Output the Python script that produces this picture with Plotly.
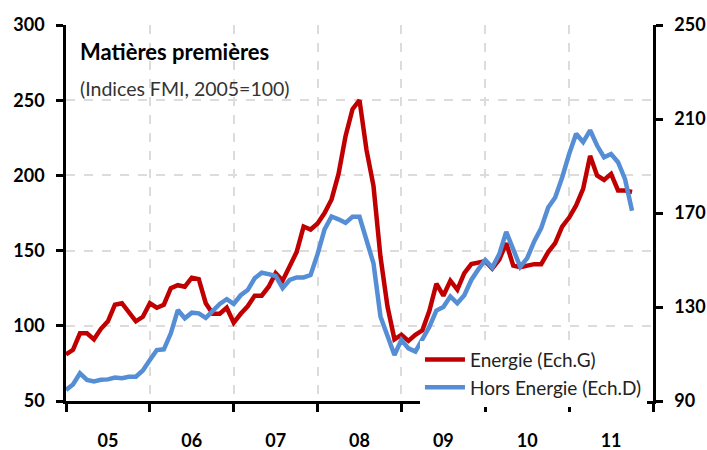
import plotly.graph_objects as go

# Monthly data, Jan 2005 .. Oct 2011
start_year = 2005
energie = [81, 84, 95, 95, 91, 98, 103, 114, 115, 109, 103, 106,
           115, 112, 114, 125, 127, 126, 132, 131, 115, 108, 108, 112,
           102, 108, 113, 120, 120, 126, 135, 130, 140, 149, 166, 164,
           168, 175, 184, 201, 226, 244, 250, 217, 193, 146, 113, 91,
           94, 90, 94, 97, 110, 128, 120, 130, 124, 135, 141, 142,
           143, 138, 144, 155, 140, 139, 140, 141, 141, 149, 155, 166,
           172, 180, 191, 213, 200, 197, 201, 190, 190, 189]
hors_energie = [94.7, 97, 101.8, 99, 98.3, 99, 99.2, 100, 99.7, 100.3, 100.3, 103,
                107.4, 111.7, 112, 118.8, 128.7, 125.2, 127.6, 127.3, 125.4, 128.7, 131.3, 133.3,
                131.3, 135, 137.2, 142.2, 144.6, 144, 143.2, 138, 141.5, 142.6, 142.6, 143.6,
                152.5, 163, 168.5, 167.3, 165.8, 168.4, 168.4, 158.5, 148.6, 126, 118, 109.6,
                116, 112.4, 111, 116, 121.6, 128.5, 130, 134.5, 131.6, 135, 141.5, 146,
                150, 146.8, 152.5, 162, 155, 147.1, 150.8, 157.9, 163.6, 172.3, 176.6, 185.1,
                195.1, 203.7, 200.2, 205.2, 198.7, 193.7, 195.1, 191.6, 184.4, 171]
year_labels = ["05", "06", "07", "08", "09", "10", "11"]
left_ticks = [50, 100, 150, 200, 250, 300]
right_ticks = [90, 130, 170, 210, 250]

x_e = [start_year + i / 12 for i in range(len(energie))]
x_h = [start_year + i / 12 for i in range(len(hors_energie))]

FONT = "Lato"
RED = "#C00000"
BLUE = "#558ED5"
GRID = "#DCDCDC"

fig = go.Figure()
fig.add_trace(go.Scatter(x=x_e, y=energie, mode="lines", name="Energie (Ech.G)",
                         line=dict(color=RED, width=4.5), yaxis="y"))
fig.add_trace(go.Scatter(x=x_h, y=hors_energie, mode="lines", name="Hors Energie (Ech.D)",
                         line=dict(color=BLUE, width=4.5), yaxis="y2"))

fig.update_layout(
    width=707, height=450,
    margin=dict(l=66, r=54, t=25, b=49),
    paper_bgcolor="white", plot_bgcolor="white",
    font=dict(family=FONT, color="black"),
    showlegend=True,
    legend=dict(x=0.603, y=-0.015, xanchor="left", yanchor="bottom",
                bgcolor="white", font=dict(family=FONT, size=19, color="#222222"),
                tracegroupgap=0, itemwidth=40),
    xaxis=dict(
        range=[start_year, start_year + len(year_labels)],
        tickmode="array",
        tickvals=[start_year + i + 0.5 for i in range(len(year_labels))],
        ticktext=year_labels,
        ticks="", showgrid=False, zeroline=False, automargin=False,
        showline=True, linecolor="black", linewidth=2.5,
        tickfont=dict(family=FONT, size=18, color="black", weight="bold"),
        ticklabelstandoff=22,
        minor=dict(tickmode="linear", tick0=start_year, dtick=1,
                   ticks="outside", ticklen=8, tickwidth=2.5, tickcolor="black",
                   showgrid=True, gridcolor=GRID, gridwidth=2, griddash="dash"),
    ),
    yaxis=dict(
        range=[50, 300], tickmode="array", tickvals=left_ticks,
        ticks="outside", ticklen=7, tickwidth=2.5, tickcolor="black",
        showline=True, linecolor="black", linewidth=2.5, automargin=False,
        showgrid=True, gridcolor=GRID, gridwidth=2, griddash="dash",
        zeroline=False,
        tickfont=dict(family=FONT, size=18, color="black", weight="bold"),
        ticklabelstandoff=8,
    ),
    yaxis2=dict(
        range=[90, 250], tickmode="array", tickvals=right_ticks,
        overlaying="y", side="right", automargin=False,
        ticks="outside", ticklen=7, tickwidth=2.5, tickcolor="black",
        showline=True, linecolor="black", linewidth=2.5,
        showgrid=False, zeroline=False,
        tickfont=dict(family=FONT, size=18, color="black", weight="bold"),
        ticklabelstandoff=8,
    ),
)

fig.add_annotation(text="<b>Matières premières</b>", xref="paper", yref="paper",
                   x=0.02, y=0.93, xanchor="left", yanchor="middle", showarrow=False,
                   font=dict(family=FONT, size=22, color="black"))
fig.add_annotation(text="(Indices FMI, 2005=100)", xref="paper", yref="paper",
                   x=0.02, y=0.83, xanchor="left", yanchor="middle", showarrow=False,
                   font=dict(family=FONT, size=19.5, color="#333333"))

fig.write_html("out.html", config={"displayModeBar": False},
               post_script="document.body.style.margin='0';document.body.style.padding='0';")
